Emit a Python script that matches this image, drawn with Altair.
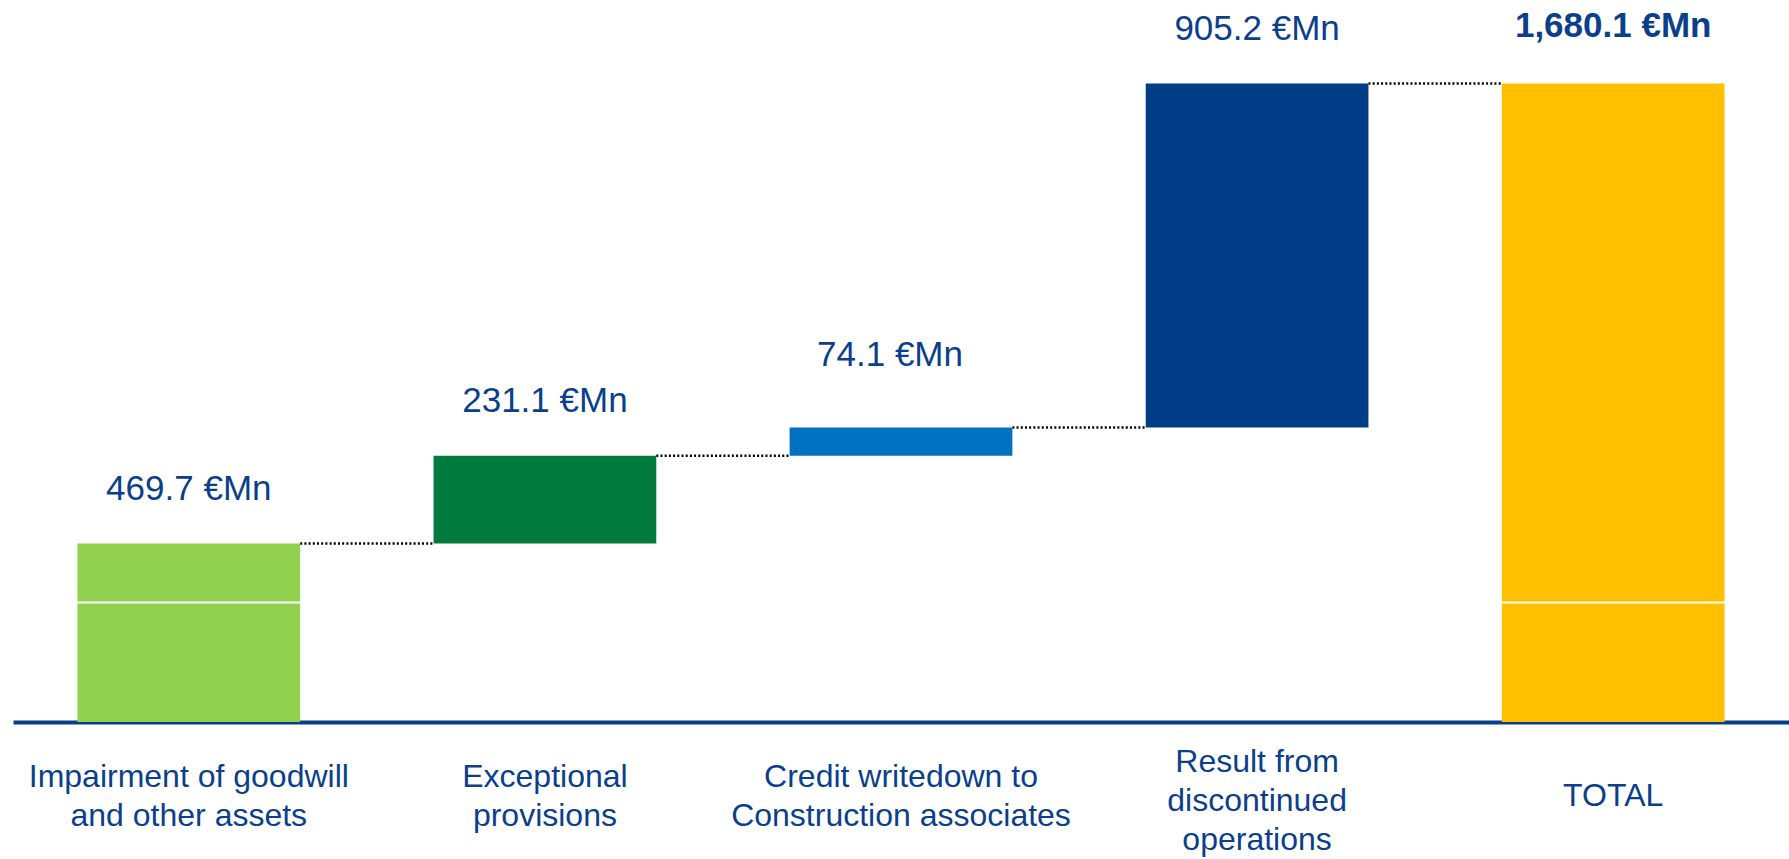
import altair as alt
import pandas as pd

# Waterfall: one-off items adding up to the total impact
categories = [
    "Impairment of goodwill\nand other assets",
    "Exceptional\nprovisions",
    "Credit  writedown to\nConstruction associates",
    "Result from\ndiscontinued\noperations",
    "TOTAL",
]
step_values = [469.7, 231.1, 74.1, 905.2]
total_value = 1680.1
bar_colors = ["#92D050", "#007A3D", "#0070C0", "#003D87", "#FFC000"]

TEXT_BLUE = "#0B3F8C"
LINE_BLUE = "#063E8A"
FONT = "Liberation Sans"

# cumulative start / end of every floating bar
starts, ends, running = [], [], 0.0
for v in step_values:
    starts.append(running)
    running = round(running + v, 1)
    ends.append(running)
starts.append(0.0)
ends.append(total_value)
values = step_values + [total_value]

df = pd.DataFrame({
    "cat": categories,
    "start": starts,
    "end": ends,
    "color": bar_colors,
    "label": [f"{v:,.1f} €Mn" for v in values],
    "next_cat": categories[1:] + [None],
})
connectors = df.iloc[:-1]

x_scale = alt.Scale(paddingInner=0.3745, paddingOuter=0.181)
# category names sit in a block centred under each column
x_axis = alt.Axis(
    title=None,
    labelExpr="split(datum.label, '\\n')",
    labelAngle=0,
    labelLimit=0,
    ticks=False,
    domainColor=LINE_BLUE,
    domainWidth=4,
    labelFont=FONT,
    labelFontSize=32,
    labelColor=TEXT_BLUE,
    labelLineHeight=39,
    labelBaseline="middle",
    labelPadding={
        "condition": [
            {"test": "indexof(datum.value, 'Result') >= 0", "value": 39},
            {"test": "datum.value == 'TOTAL'", "value": 73},
        ],
        "value": 54,
    },
)
y_scale = alt.Scale(domain=[0, 1900], nice=False, zero=True)
# thin white separator running across the columns
y_axis = alt.Axis(
    title=None,
    values=[316],
    grid=True,
    gridColor="white",
    gridWidth=2,
    domain=False,
    ticks=False,
    labels=False,
    zindex=1,
)


def x_enc(band=0.5):
    return alt.X("cat:N", sort=categories, scale=x_scale, axis=x_axis, bandPosition=band)


def y_enc(field):
    return alt.Y(field, scale=y_scale, axis=y_axis)


base = alt.Chart(df)

bars = base.mark_bar().encode(
    x=x_enc(),
    y=y_enc("start:Q"),
    y2="end:Q",
    color=alt.Color("color:N", scale=None),
)

links = alt.Chart(connectors).mark_rule(
    color="black", strokeDash=[2, 2.2], strokeWidth=2.4
).encode(
    x=x_enc(1),
    x2=alt.X2("next_cat", bandPosition=0),
    y=y_enc("end:Q"),
)

text_style = dict(fontSize=35, font=FONT, color=TEXT_BLUE, baseline="middle", align="center")

labels = base.mark_text(dy=-55, **text_style).encode(
    x=x_enc(),
    y=y_enc("end:Q"),
    text="label:N",
).transform_filter(
    f"datum.cat != '{categories[4]}' && indexof(datum.cat, 'Credit') < 0"
)

label_credit = base.mark_text(dy=-73, dx=-11, **text_style).encode(
    x=x_enc(),
    y=y_enc("end:Q"),
    text="label:N",
).transform_filter("indexof(datum.cat, 'Credit') >= 0")

label_total = base.mark_text(dy=-58, fontWeight="bold", **text_style).encode(
    x=x_enc(),
    y=y_enc("end:Q"),
    text="label:N",
).transform_filter(f"datum.cat == '{categories[4]}'")

chart = alt.layer(links, bars, labels, label_credit, label_total).properties(
    width=1776,
    height=722,
    padding={"left": 13, "top": 0, "right": 0, "bottom": 137},
    autosize=alt.AutoSizeParams(type="none"),
    background="white",
).configure_view(stroke=None)

chart.save("out.html", embed_options={"renderer": "svg", "actions": False})
